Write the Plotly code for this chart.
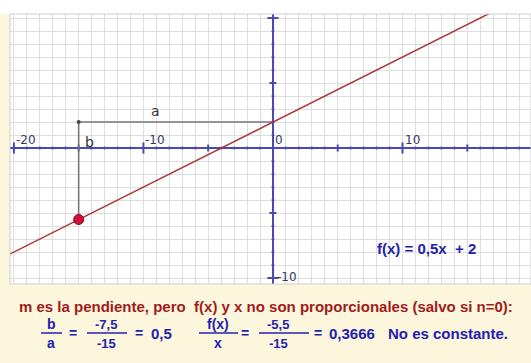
import plotly.graph_objects as go

# --- data -------------------------------------------------------------
# f(x) = 0,5x + 2  (endpoints beyond the visible window; the axes clip it)
line_x = [-21.0, 20.0]
line_y = [-8.5, 12.0]

# chosen point on the line and the corner of the slope triangle
point_x = [-15.0]
point_y = [-5.5]
corner_x = [-15.0]
corner_y = [2.0]
a_leg_x = [-15.0, 0.0]
a_leg_y = [2.0, 2.0]
b_leg_x = [-15.0, -15.0]
b_leg_y = [2.0, -5.5]

# axis decorations
x_minor = [v for v in range(-20, 20) if v % 5 != 0]
x_mid = [-15, -5, 5, 15]
x_major = [-20, -10, 10]
y_minor = [v for v in range(-10, 11) if v % 5 != 0]
y_mid = [-5, 5]
y_major = [-10, 10]
x_tick_labels = [(-20, "-20"), (-10, "-10"), (0, "0"), (10, "10")]
y_tick_labels = [(-10, "-10")]

# texts
func_label = "f(x) = 0,5x  + 2"
leg_a_label = "a"
leg_b_label = "b"
row1 = "m es la pendiente, pero  f(x) y x no son proporcionales (salvo si n=0):"
frac1 = ("b", "a")
frac1_vals = ("-7,5", "-15")
ratio1 = "0,5"
frac2 = ("f(x)", "x")
frac2_vals = ("-5,5", "-15")
ratio2 = "0,3666"
verdict = "No es constante."

# --- layout geometry ----------------------------------------------------
W, H = 531, 363
ML, MR, MT, MB = 10, 0, 14, 79
PW, PH = W - ML - MR, H - MT - MB

AXIS_BLUE = "#4a4ab4"
TEXT_BLUE = "#2222b0"
RED_TEXT = "#a01c1c"


def px(x):
    return (x - ML) / PW


def py(y):
    return (H - MB - y) / PH


fig = go.Figure()

# tick marks along the axes
fig.add_trace(go.Scatter(x=x_minor, y=[0] * len(x_minor), mode="markers",
                         marker=dict(symbol="circle", size=3, color=AXIS_BLUE),
                         hoverinfo="skip"))
fig.add_trace(go.Scatter(x=x_mid, y=[0] * len(x_mid), mode="markers",
                         marker=dict(symbol="line-ns", size=5,
                                     line=dict(color=AXIS_BLUE, width=2)),
                         hoverinfo="skip"))
fig.add_trace(go.Scatter(x=x_major, y=[0] * len(x_major), mode="markers",
                         marker=dict(symbol="line-ns", size=8,
                                     line=dict(color=AXIS_BLUE, width=2)),
                         hoverinfo="skip"))
fig.add_trace(go.Scatter(x=[0] * len(y_minor), y=y_minor, mode="markers",
                         marker=dict(symbol="circle", size=3, color=AXIS_BLUE),
                         hoverinfo="skip"))
fig.add_trace(go.Scatter(x=[0] * len(y_mid), y=y_mid, mode="markers",
                         marker=dict(symbol="line-ew", size=5,
                                     line=dict(color=AXIS_BLUE, width=2)),
                         hoverinfo="skip"))
fig.add_trace(go.Scatter(x=[0] * len(y_major), y=y_major, mode="markers",
                         marker=dict(symbol="line-ew", size=8,
                                     line=dict(color=AXIS_BLUE, width=2)),
                         hoverinfo="skip"))

# slope triangle legs
fig.add_trace(go.Scatter(x=a_leg_x, y=a_leg_y, mode="lines",
                         line=dict(color="#777777", width=1.6), hoverinfo="skip"))
fig.add_trace(go.Scatter(x=b_leg_x, y=b_leg_y, mode="lines",
                         line=dict(color="#777777", width=1.6), hoverinfo="skip"))
fig.add_trace(go.Scatter(x=corner_x, y=corner_y, mode="markers",
                         marker=dict(size=4, color="#444444"), hoverinfo="skip"))

# the function
fig.add_trace(go.Scatter(x=line_x, y=line_y, mode="lines",
                         line=dict(color="#a83838", width=1.5), hoverinfo="skip"))

# the point on the line
fig.add_trace(go.Scatter(x=point_x, y=point_y, mode="markers",
                         marker=dict(size=10, color="#d0103a",
                                     line=dict(color="#900020", width=1)),
                         hoverinfo="skip"))

annotations = []
axis_font = dict(family="DejaVu Sans", size=12, color="#35356a")
for v, t in x_tick_labels:
    annotations.append(dict(x=v, y=0, text=t, showarrow=False, xanchor="left",
                            yanchor="bottom", xshift=0, yshift=-1, font=axis_font))
for v, t in y_tick_labels:
    annotations.append(dict(x=0, y=v, text=t, showarrow=False, xanchor="left",
                            yanchor="middle", xshift=2, yshift=1, font=axis_font))

label_font = dict(family="DejaVu Sans", size=14, color="#333333")
annotations.append(dict(x=-9.1, y=2.0, text=leg_a_label, showarrow=False,
                        yanchor="bottom", yshift=1, font=label_font))
annotations.append(dict(x=-14.7, y=0, text=leg_b_label, showarrow=False,
                        xanchor="left", yanchor="bottom", yshift=-4,
                        font=label_font))

bold = "Liberation Sans, Arial, sans-serif"
annotations.append(dict(x=7.9, y=-7.7, text="<b>" + func_label + "</b>",
                        showarrow=False, xanchor="left", yanchor="middle",
                        font=dict(family=bold, size=15, color=TEXT_BLUE)))


def paper_text(x, y, text, color, size=14, xanchor="center"):
    annotations.append(dict(xref="paper", yref="paper", x=px(x), y=py(y),
                            text="<b>" + text + "</b>", showarrow=False,
                            xanchor=xanchor, yanchor="middle",
                            font=dict(family=bold, size=size, color=color)))


paper_text(17, 306, row1, RED_TEXT, size=15, xanchor="left")

num_y, den_y, bar_y = 324, 343, 333
paper_text(51, num_y, frac1[0], TEXT_BLUE)
paper_text(51, den_y, frac1[1], TEXT_BLUE)
paper_text(73, bar_y, "=", TEXT_BLUE)
paper_text(106, num_y, frac1_vals[0], TEXT_BLUE, size=13)
paper_text(106, den_y, frac1_vals[1], TEXT_BLUE, size=13)
paper_text(133, bar_y, "=", TEXT_BLUE, xanchor="left")
paper_text(149, bar_y, ratio1, TEXT_BLUE, size=15, xanchor="left")
paper_text(218, num_y, frac2[0], TEXT_BLUE)
paper_text(218, den_y, frac2[1], TEXT_BLUE)
paper_text(245, bar_y, "=", TEXT_BLUE)
paper_text(278, num_y, frac2_vals[0], TEXT_BLUE, size=13)
paper_text(278, den_y, frac2_vals[1], TEXT_BLUE, size=13)
paper_text(312, bar_y, "=", TEXT_BLUE, xanchor="left")
paper_text(327, bar_y, ratio2, TEXT_BLUE, size=15, xanchor="left")
paper_text(386, bar_y, verdict, TEXT_BLUE, size=15, xanchor="left")

shapes = []
# white strip above the drawing area
shapes.append(dict(type="rect", xref="paper", yref="paper", x0=px(0), x1=px(W),
                   y0=1, y1=py(0), fillcolor="white", line=dict(width=0),
                   layer="below"))
# frame of the drawing area
shapes.append(dict(type="rect", xref="paper", yref="paper", x0=0, x1=1, y0=0,
                   y1=1, line=dict(color="#cfcfcf", width=1)))
# fraction bars
for x0, x1 in [(41, 62), (87, 127), (199, 238), (259, 309)]:
    shapes.append(dict(type="line", xref="paper", yref="paper", x0=px(x0),
                       x1=px(x1), y0=py(bar_y), y1=py(bar_y),
                       line=dict(color=TEXT_BLUE, width=1.5)))

fig.update_layout(
    width=W, height=H,
    margin=dict(l=ML, r=MR, t=MT, b=MB),
    paper_bgcolor="#fcf6dc",
    plot_bgcolor="white",
    showlegend=False,
    annotations=annotations,
    shapes=shapes,
    xaxis=dict(range=[-20.3, 19.92], dtick=1, tick0=0, showgrid=True,
               gridcolor="#dedede", gridwidth=1, zeroline=True,
               zerolinecolor=AXIS_BLUE, zerolinewidth=2,
               showticklabels=False, ticks="", fixedrange=True),
    yaxis=dict(range=[-10.46, 10.31], dtick=1, tick0=0, showgrid=True,
               gridcolor="#dedede", gridwidth=1, zeroline=True,
               zerolinecolor=AXIS_BLUE, zerolinewidth=2,
               showticklabels=False, ticks="", fixedrange=True),
)

fig.write_html("out.html")
